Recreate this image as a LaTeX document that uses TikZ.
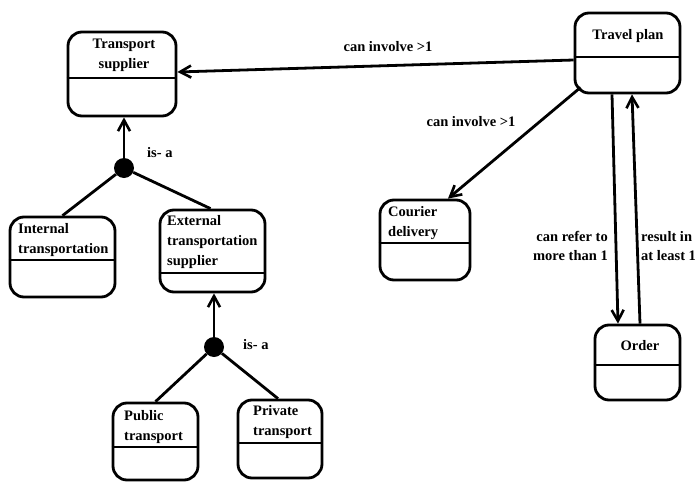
\documentclass[tikz,border=0pt]{standalone}
\usepackage{fontspec}
\setmainfont{Liberation Serif}
\usetikzlibrary{arrows.meta}
\begin{document}
\begin{tikzpicture}[x=1pt,y=-1pt,
  every node/.style={font=\fontsize{14.5}{20}\selectfont\bfseries},
  box/.style={draw, line width=2.8pt, rounded corners=14pt, inner sep=0pt},
  divline/.style={line width=2.6pt},
  conn/.style={line width=2.8pt},
  arr/.style={conn, -{Straight Barb[length=11pt,width=12pt,line width=2.6pt]}},
  dot/.style={circle, fill=black, minimum size=20pt, inner sep=0pt},
  txt/.style={align=left, inner sep=0pt},
  lbl/.style={inner sep=0pt, font=\fontsize{14.5}{18.5}\selectfont\bfseries}]
\useasboundingbox (0,0) rectangle (697,485);
\fill[white] (0,0) rectangle (697,485);
% boxes
\node[box, minimum width=108pt, minimum height=84pt] (ts) at (122,74) {};
\node[box, minimum width=105pt, minimum height=80pt] (tp) at (627.5,53) {};
\node[box, minimum width=105pt, minimum height=80pt] (it) at (62.5,257) {};
\node[box, minimum width=105pt, minimum height=82pt] (et) at (212.5,251) {};
\node[box, minimum width=90pt, minimum height=80pt] (cd) at (425,240) {};
\node[box, minimum width=85pt, minimum height=75pt] (or) at (637.5,362.5) {};
\node[box, minimum width=85pt, minimum height=77pt] (pu) at (155.5,441.5) {};
\node[box, minimum width=84pt, minimum height=78pt] (pr) at (280,439) {};
% dividers
\draw[divline] (ts.west |- 0,78) -- (ts.east |- 0,78);
\draw[divline] (tp.west |- 0,57) -- (tp.east |- 0,57);
\draw[divline] (it.west |- 0,260) -- (it.east |- 0,260);
\draw[divline] (et.west |- 0,273) -- (et.east |- 0,273);
\draw[divline] (cd.west |- 0,243) -- (cd.east |- 0,243);
\draw[divline] (or.west |- 0,365) -- (or.east |- 0,365);
\draw[divline] (pu.west |- 0,447) -- (pu.east |- 0,447);
\draw[divline] (pr.west |- 0,443) -- (pr.east |- 0,443);
% box texts
\node[txt, align=center] (tsT) at (124,55) {Transport\\supplier};
\node[txt] (tpT) at (628,36) {Travel plan};
\node[txt, anchor=west] (itT) at (18,240) {Internal\\transportation};
\node[txt, anchor=west] (etT) at (167,242) {External\\transportation\\supplier};
\node[txt, anchor=west] (cdT) at (388,223) {Courier\\delivery};
\node[txt] (orT) at (640,346) {Order};
\node[txt, anchor=west] (puT) at (124,427) {Public\\transport};
\node[txt, anchor=west] (prT) at (253,422) {Private\\transport};
% is-a dots
\node[dot] (d1) at (124,168) {};
\node[dot] (d2) at (214,347) {};
\node[lbl, anchor=west] (isa1) at (147,153) {is- a};
\node[lbl, anchor=west] (isa2) at (243,345) {is- a};
% connectors
\draw[arr] (d1) -- (d1 |- ts.south);
\draw[conn] (d1) -- (it.north);
\draw[conn] (d1) -- ([xshift=-2pt]et.north);
\draw[arr] (d2) -- (d2 |- et.south);
\draw[conn] (d2) -- (pu.north);
\draw[conn] (d2) -- ([xshift=-2pt]pr.north);
\draw[arr] ([yshift=-7pt]tp.west) -- ([yshift=2pt]ts.east);
\node[lbl] (l1) at (388,47) {can involve >1};
\draw[arr] ([shift={(7pt,7pt)}]tp.south west) -- ([xshift=23pt]cd.north);
\node[lbl] (l2) at (471,122) {can involve >1};
\draw[arr] ([xshift=-15.5pt]tp.south) -- ([xshift=-19.5pt]or.north);
\draw[arr] ([xshift=2.5pt]or.north) -- ([xshift=4.5pt]tp.south);
\node[lbl, anchor=east, align=right] (l3) at (608,246) {can refer to\\more than 1};
\node[lbl, anchor=west, align=left] (l4) at (641,246) {result in\\at least 1};
\end{tikzpicture}
\end{document}
